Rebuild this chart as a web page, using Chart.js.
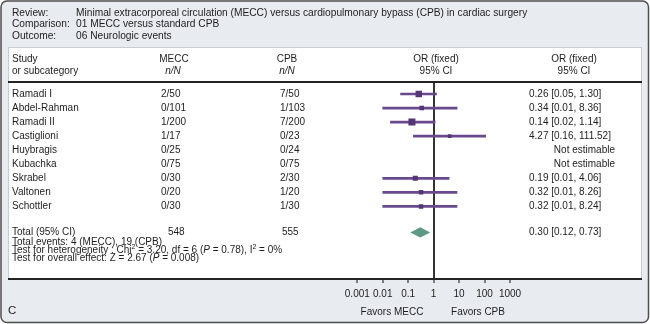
<!DOCTYPE html>
<html>
<head>
<meta charset="utf-8">
<script src="https://cdn.jsdelivr.net/npm/chart.js@4.4.1/dist/chart.umd.min.js"></script>
<style>
  html, body { margin: 0; padding: 0; background: #ffffff; }
  #wrap { width: 650px; height: 324px; }
</style>
</head>
<body>
<div id="wrap"><canvas id="forest" width="650" height="324"></canvas></div>
<script>
// --- data -------------------------------------------------------------
const reviewLabels = ['Review:', 'Comparison:', 'Outcome:'];
const reviewValues = [
  'Minimal extracorporeal circulation (MECC) versus cardiopulmonary bypass (CPB) in cardiac surgery',
  '01 MECC versus standard CPB',
  '06 Neurologic events'
];

const studies = ['Ramadi I', 'Abdel-Rahman', 'Ramadi II', 'Castiglioni', 'Huybragis',
                 'Kubachka', 'Skrabel', 'Valtonen', 'Schottler'];
const meccEvents = ['2/50', '0/101', '1/200', '1/17', '0/25', '0/75', '0/30', '0/20', '0/30'];
const cpbEvents  = ['7/50', '1/103', '7/200', '0/23', '0/24', '0/75', '2/30', '1/20', '1/30'];
const oddsRatio  = [0.26, 0.34, 0.14, 4.27, null, null, 0.19, 0.32, 0.32];
const ciLow      = [0.05, 0.01, 0.02, 0.16, null, null, 0.01, 0.01, 0.01];
const ciHigh     = [1.30, 8.36, 1.14, 111.52, null, null, 4.06, 8.26, 8.24];
const weights    = [27.6, 8.0, 36.0, 2.2, null, null, 11.9, 7.2, 7.1];

const totalMecc = '548';
const totalCpb = '555';
const pooledOR = 0.30;
const pooledLow = 0.12;
const pooledHigh = 0.73;

const tickValues = [0.001, 0.01, 0.1, 1, 10, 100, 1000];
const tickLabels = ['0.001', '0.01', '0.1', '1', '10', '100', '1000'];

// --- look -------------------------------------------------------------
const FONT = "'Liberation Sans', Arial, sans-serif";
const TEXT = '#1d1d1d';
const PURPLE_LINE = '#684a8c';
const PURPLE_BOX = '#553478';
const DIAMOND = '#5f9985';
const TOTAL_ROW = 9.85;
const DIAMOND_HALF = 0.36;

const fmt = v => v.toFixed(2);
const ciText = i => oddsRatio[i] == null
  ? 'Not estimable'
  : `${fmt(oddsRatio[i])} [${fmt(ciLow[i])}, ${fmt(ciHigh[i])}]`;

const ciBars = [];
const boxes = [];
const boxRadius = [];
studies.forEach((s, i) => {
  if (oddsRatio[i] == null) return;
  ciBars.push({ x: [ciLow[i], ciHigh[i]], y: i });
  boxes.push({ x: oddsRatio[i], y: i });
  const side = 2.5 + 0.75 * Math.sqrt(weights[i]);
  boxRadius.push(side / (2 * Math.SQRT1_2));
});

function drawRuns(ctx, runs, x, y) {
  let cx = x;
  ctx.textAlign = 'left';
  runs.forEach(r => {
    const size = r.sup ? 7 : 10;
    ctx.font = `${r.italic ? 'italic ' : ''}${size}px ${FONT}`;
    ctx.fillText(r.t, cx, r.sup ? y - 3 : y);
    cx += ctx.measureText(r.t).width;
  });
}

function text(ctx, str, x, y, align, opts) {
  ctx.font = `${opts && opts.italic ? 'italic ' : ''}${opts && opts.size ? opts.size : 10}px ${FONT}`;
  ctx.textAlign = align || 'left';
  ctx.fillText(str, x, y);
}

const forestFrame = {
  id: 'forestFrame',
  beforeDraw(chart) {
    const ctx = chart.ctx;
    ctx.save();
    ctx.beginPath();
    ctx.roundRect(1, 1, 647.5, 321.5, 6);
    ctx.fillStyle = '#e8ebef';
    ctx.fill();
    ctx.lineWidth = 1.5;
    ctx.strokeStyle = '#4d4d4d';
    ctx.stroke();

    ctx.fillStyle = '#ffffff';
    ctx.fillRect(8, 47, 634, 233);
    ctx.lineWidth = 1;
    ctx.strokeStyle = '#c9cdd3';
    ctx.strokeRect(8.5, 47.5, 633, 232);
    ctx.restore();
  },
  afterDraw(chart) {
    const ctx = chart.ctx;
    const y = chart.scales.y;
    const area = chart.chartArea;
    ctx.save();

    // rules under the header and along the axis
    ctx.strokeStyle = '#232323';
    ctx.lineWidth = 2;
    ctx.beginPath();
    ctx.moveTo(8, area.top);
    ctx.lineTo(642, area.top);
    ctx.moveTo(8, area.bottom);
    ctx.lineTo(642, area.bottom);
    ctx.stroke();

    ctx.fillStyle = TEXT;
    ctx.textBaseline = 'middle';

    // review block
    const infoY = [13, 24.5, 36];
    reviewLabels.forEach((l, i) => {
      text(ctx, l, 12, infoY[i], 'left', { size: 10.2 });
      text(ctx, reviewValues[i], 76, infoY[i], 'left', { size: 10.2 });
    });

    // column headers
    text(ctx, 'Study', 12, 59.5);
    text(ctx, 'or subcategory', 12, 71);
    text(ctx, 'MECC', 174, 59.5, 'center');
    text(ctx, 'n/N', 173, 71, 'center', { italic: true });
    text(ctx, 'CPB', 287, 59.5, 'center');
    text(ctx, 'n/N', 287, 71, 'center', { italic: true });
    text(ctx, 'OR (fixed)', 436, 59.5, 'center');
    text(ctx, '95% CI', 436, 71, 'center');
    text(ctx, 'OR (fixed)', 574, 59.5, 'center');
    text(ctx, '95% CI', 574, 71, 'center');

    // study rows
    studies.forEach((s, i) => {
      const py = y.getPixelForValue(i);
      text(ctx, s, 12, py);
      text(ctx, meccEvents[i], 161, py);
      text(ctx, cpbEvents[i], 280, py);
      if (oddsRatio[i] == null) text(ctx, ciText(i), 615, py, 'right');
      else text(ctx, ciText(i), 529, py);
    });

    // totals
    const ty = y.getPixelForValue(TOTAL_ROW);
    text(ctx, 'Total (95% CI)', 12, ty);
    text(ctx, totalMecc, 168, ty);
    text(ctx, totalCpb, 282, ty);
    text(ctx, `${fmt(pooledOR)} [${fmt(pooledLow)}, ${fmt(pooledHigh)}]`, 529, ty);

    text(ctx, 'Total events: 4 (MECC), 19 (CPB)', 12, 242);
    drawRuns(ctx, [
      { t: 'Test for heterogeneity : Chi' }, { t: '2', sup: true },
      { t: ' = 3.20, df = 6 (' }, { t: 'P', italic: true },
      { t: ' = 0.78), I' }, { t: '2', sup: true }, { t: ' = 0%' }
    ], 12, 250);
    drawRuns(ctx, [
      { t: 'Test for overall effect: Z = 2.67 (' }, { t: 'P', italic: true }, { t: ' = 0.008)' }
    ], 12, 258);

    // favours captions
    text(ctx, 'Favors MECC', 392, 312.5, 'center');
    text(ctx, 'Favors CPB', 478, 312.5, 'center');
    text(ctx, 'C', 8, 311, 'left', { size: 11.5 });

    ctx.restore();
  }
};

new Chart(document.getElementById('forest'), {
  type: 'scatter',
  data: {
    datasets: [
      {
        type: 'scatter',
        data: boxes,
        pointStyle: 'rect',
        pointRadius: boxRadius,
        backgroundColor: PURPLE_BOX,
        borderWidth: 0,
        order: 0
      },
      {
        type: 'bar',
        indexAxis: 'y',
        data: ciBars,
        barThickness: 2,
        grouped: false,
        backgroundColor: PURPLE_LINE,
        borderWidth: 0,
        order: 1
      },
      {
        type: 'line',
        data: [
          { x: pooledLow, y: TOTAL_ROW },
          { x: pooledOR, y: TOTAL_ROW - DIAMOND_HALF },
          { x: pooledHigh, y: TOTAL_ROW }
        ],
        fill: '+1',
        backgroundColor: DIAMOND,
        borderColor: 'rgba(0,0,0,0)',
        pointRadius: 0,
        tension: 0,
        order: 2
      },
      {
        type: 'line',
        data: [
          { x: pooledLow, y: TOTAL_ROW },
          { x: pooledOR, y: TOTAL_ROW + DIAMOND_HALF },
          { x: pooledHigh, y: TOTAL_ROW }
        ],
        fill: false,
        borderColor: 'rgba(0,0,0,0)',
        pointRadius: 0,
        tension: 0,
        order: 3
      }
    ]
  },
  options: {
    responsive: false,
    animation: false,
    events: [],
    layout: { padding: { left: 357.3, right: 140, top: 82, bottom: 24 } },
    plugins: { legend: { display: false }, tooltip: { enabled: false } },
    scales: {
      x: {
        type: 'logarithmic',
        min: 0.001,
        max: 1000,
        offset: false,
        afterBuildTicks: s => { s.ticks = tickValues.map(v => ({ value: v })); },
        afterFit: s => { s.height = 21; },
        border: { display: false },
        grid: {
          offset: false,
          drawOnChartArea: true,
          color: c => (c.tick && c.tick.value === 1 ? '#333333' : 'rgba(0,0,0,0)'),
          lineWidth: 2,
          tickColor: '#333333',
          tickWidth: 1.2,
          tickLength: 4
        },
        ticks: {
          autoSkip: false,
          maxRotation: 0,
          padding: 5,
          color: TEXT,
          font: { family: FONT, size: 10 },
          callback: (v, i) => tickLabels[i]
        }
      },
      y: {
        type: 'linear',
        display: false,
        reverse: true,
        offset: false,
        grid: { offset: false },
        min: -0.854,
        max: 13.167
      }
    }
  },
  plugins: [forestFrame]
});
</script>
</body>
</html>
